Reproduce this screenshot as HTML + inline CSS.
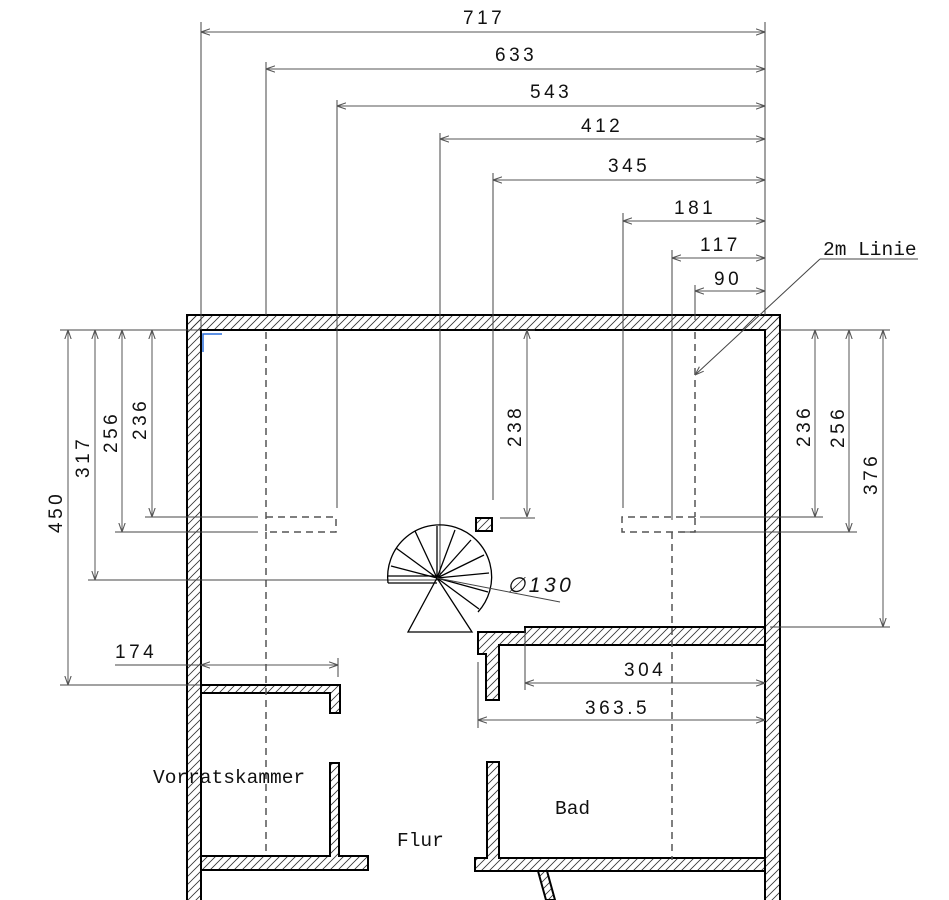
<!DOCTYPE html>
<html><head><meta charset="utf-8"><style>
html,body{margin:0;padding:0;background:#fff;}
svg{display:block}
.d{font-family:"Liberation Sans",sans-serif;font-size:19px;letter-spacing:3.5px;fill:#111}
.l{font-family:"Liberation Mono","DejaVu Sans Mono",monospace;font-size:19.5px;fill:#111}
</style></head><body>
<svg width="949" height="900" viewBox="0 0 949 900" xmlns="http://www.w3.org/2000/svg">
<defs>
<pattern id="h" patternUnits="userSpaceOnUse" width="8" height="8">
<path d="M-2,10 L10,-2 M-2,2 L2,-2 M6,10 L10,6" stroke="#333" stroke-width="0.8"/>
</pattern>
<marker id="a" viewBox="0 0 10 10" refX="10" refY="5" markerWidth="9" markerHeight="9" orient="auto-start-reverse" markerUnits="userSpaceOnUse">
<path d="M0,1.5 L10,5 L0,8.5" fill="none" stroke="#555" stroke-width="1.2"/>
</marker>
</defs>

<rect x="187" y="315" width="14" height="585" fill="url(#h)"/>
<rect x="187" y="315" width="593" height="15" fill="url(#h)"/>
<rect x="765" y="315" width="15" height="585" fill="url(#h)"/>
<g fill="none" stroke="#000" stroke-width="2">
<polyline points="187,900 187,315 780,315 780,900"/>
<polyline points="201,685 201,330 765,330 765,627"/>
<line x1="201" y1="693" x2="201" y2="856"/>
<line x1="201" y1="870" x2="201" y2="900"/>
<line x1="765" y1="645" x2="765" y2="858"/>
<line x1="765" y1="871" x2="765" y2="900"/>
</g>

<g fill="url(#h)" stroke="#000" stroke-width="2">
<polygon points="201,685 340,685 340,713 330,713 330,693 201,693"/>
<polygon points="330,763 339,763 339,856 368,856 368,870 201,870 201,856 330,856"/>
<polygon points="478,632 525,632 525,627 765,627 765,645 499,645 499,700 486,700 486,654 478,654"/>
<polygon points="487,762 499,762 499,858 765,858 765,871 475,871 475,858 487,858"/>
<polygon points="538,871 547,871 555,900 546,900"/>
<rect x="476" y="518" width="16" height="13"/>
</g>

<g fill="none" stroke="#555" stroke-width="1.5" stroke-dasharray="7,5">
<line x1="266" y1="332" x2="266" y2="517"/>
<polyline points="266,517 336,517 336,532 266,532 266,517"/>
<line x1="266" y1="532" x2="266" y2="856"/>
<line x1="695" y1="332" x2="695" y2="517"/>
<polyline points="695,517 622,517 622,532 695,532 695,517"/>
<line x1="672" y1="532" x2="672" y2="860"/>
</g>

<g stroke="#444" stroke-width="1" fill="none">
<line x1="201" y1="22" x2="201" y2="330"/>
<line x1="266" y1="62" x2="266" y2="315"/>
<line x1="337" y1="100" x2="337" y2="508"/>
<line x1="440" y1="133" x2="440" y2="578"/>
<line x1="493" y1="173" x2="493" y2="500"/>
<line x1="623" y1="213" x2="623" y2="508"/>
<line x1="672" y1="250" x2="672" y2="520"/>
<line x1="695" y1="285" x2="695" y2="320"/>
<line x1="765" y1="22" x2="765" y2="315"/>
<line x1="60" y1="330" x2="200" y2="330"/>
<line x1="60" y1="685" x2="200" y2="685"/>
<line x1="88" y1="580" x2="440" y2="580"/>
<line x1="115" y1="532" x2="258" y2="532"/>
<line x1="145" y1="517" x2="258" y2="517"/>
<line x1="500" y1="330" x2="535" y2="330"/>
<line x1="500" y1="518" x2="535" y2="518"/>
<line x1="780" y1="330" x2="890" y2="330"/>
<line x1="700" y1="517" x2="823" y2="517"/>
<line x1="680" y1="532" x2="857" y2="532"/>
<line x1="770" y1="627" x2="890" y2="627"/>
<line x1="525" y1="628" x2="525" y2="690"/>
<line x1="478" y1="662" x2="478" y2="728"/>
<line x1="338" y1="658" x2="338" y2="677"/>
<line x1="115" y1="665" x2="201" y2="665"/>
<line x1="820" y1="259" x2="918" y2="259"/>
</g>

<g stroke="#555" stroke-width="1" fill="none" marker-start="url(#a)" marker-end="url(#a)">
<line x1="201" y1="32" x2="765" y2="32"/>
<line x1="266" y1="69" x2="765" y2="69"/>
<line x1="337" y1="106" x2="765" y2="106"/>
<line x1="440" y1="139" x2="765" y2="139"/>
<line x1="493" y1="180" x2="765" y2="180"/>
<line x1="623" y1="221" x2="765" y2="221"/>
<line x1="672" y1="258" x2="765" y2="258"/>
<line x1="695" y1="291" x2="765" y2="291"/>
<line x1="68" y1="330" x2="68" y2="685"/>
<line x1="95" y1="330" x2="95" y2="580"/>
<line x1="122" y1="330" x2="122" y2="532"/>
<line x1="152" y1="330" x2="152" y2="517"/>
<line x1="527" y1="330" x2="527" y2="517"/>
<line x1="815" y1="330" x2="815" y2="517"/>
<line x1="849" y1="330" x2="849" y2="532"/>
<line x1="883" y1="330" x2="883" y2="627"/>
<line x1="525" y1="683" x2="765" y2="683"/>
<line x1="478" y1="720" x2="765" y2="720"/>
<line x1="201" y1="665" x2="338" y2="665"/>
</g>
<line x1="820" y1="259" x2="695" y2="375" stroke="#444" stroke-width="1" marker-end="url(#a)"/>

<g stroke="#000" stroke-width="1.3" fill="none">
<path d="M388,583 A52,52 0 1 1 478,612"/>
<line x1="388" y1="583" x2="437" y2="583"/>
<line x1="388" y1="576" x2="437" y2="576"/>
<line x1="437" y1="578" x2="396" y2="548"/>
<line x1="437" y1="578" x2="415" y2="531"/>
<line x1="437" y1="578" x2="437" y2="526"/>
<line x1="437" y1="578" x2="455" y2="530"/>
<line x1="437" y1="578" x2="471" y2="540"/>
<line x1="437" y1="578" x2="484" y2="555"/>
<line x1="437" y1="578" x2="489" y2="573"/>
<line x1="437" y1="578" x2="488" y2="592"/>
<line x1="437" y1="578" x2="479" y2="609"/>
<line x1="437" y1="578" x2="391" y2="566"/>
<polygon points="437,578 408,632 472,632"/>
<line x1="437" y1="578" x2="560" y2="602" stroke="#444" stroke-width="1"/>
</g>
<path d="M203,352 L203,334 L222,334" stroke="#2a6fdb" stroke-width="1.5" fill="none"/>

<g class="d">
<text x="463" y="24">717</text>
<text x="495" y="61">633</text>
<text x="530" y="98">543</text>
<text x="581" y="132">412</text>
<text x="608" y="172">345</text>
<text x="674" y="214">181</text>
<text x="700" y="251">117</text>
<text x="714" y="285">90</text>
<text x="624" y="676">304</text>
<text x="585" y="714">363.5</text>
<text x="115" y="658">174</text>
<text x="507" y="592" font-style="italic" font-size="21">∅130</text>
<text transform="translate(62,533) rotate(-90)">450</text>
<text transform="translate(89,478) rotate(-90)">317</text>
<text transform="translate(117,453) rotate(-90)">256</text>
<text transform="translate(146,440) rotate(-90)">236</text>
<text transform="translate(521,447) rotate(-90)">238</text>
<text transform="translate(810,447) rotate(-90)">236</text>
<text transform="translate(844,448) rotate(-90)">256</text>
<text transform="translate(877,495) rotate(-90)">376</text>
</g>
<g class="l">
<text x="153" y="783">Vorratskammer</text>
<text x="397" y="846">Flur</text>
<text x="555" y="814">Bad</text>
<text x="823" y="255">2m Linie</text>
</g>
</svg>
</body></html>
